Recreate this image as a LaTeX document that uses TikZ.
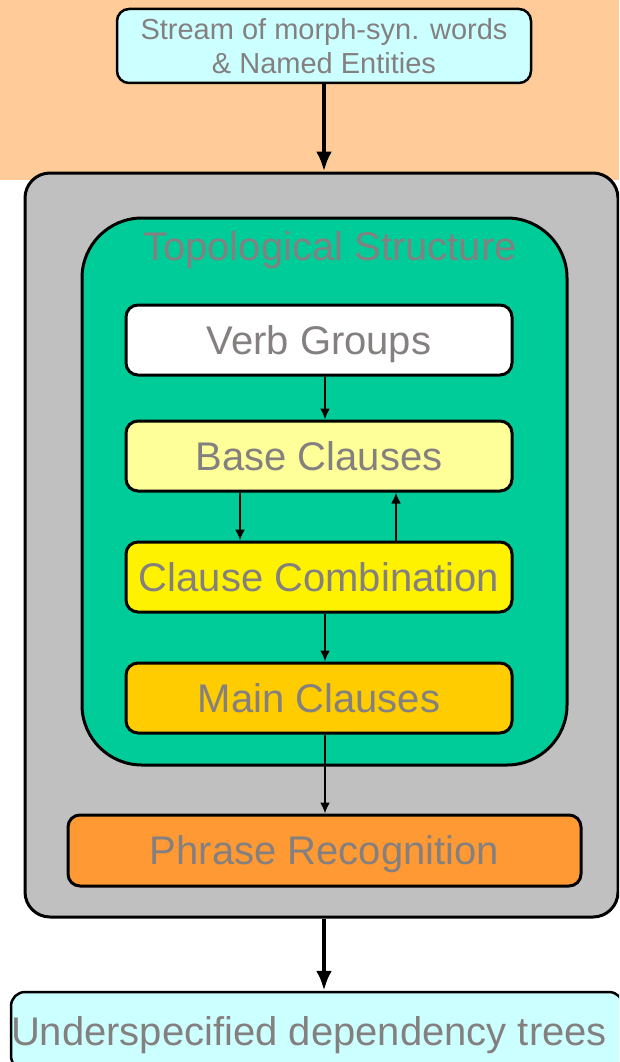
\documentclass[tikz,border=0pt]{standalone}
\usepackage{fontspec}
\setmainfont{Liberation Sans}
\usepackage{tikz}
\usetikzlibrary{arrows.meta,positioning}
\definecolor{orangebg}{RGB}{255,204,153}
\definecolor{greybox}{RGB}{192,192,192}
\definecolor{greenbox}{RGB}{0,204,153}
\definecolor{cyanbox}{RGB}{204,255,255}
\definecolor{paleyellow}{RGB}{255,255,153}
\definecolor{goldbox}{RGB}{255,204,0}
\definecolor{phraseorange}{RGB}{255,153,51}
\definecolor{labelgrey}{RGB}{133,128,128}
\newcommand{\bigfont}{\fontsize{40}{46}\selectfont}
\newcommand{\smallfont}{\fontsize{29}{34}\selectfont}

\begin{document}
\begin{tikzpicture}[x=1pt,y=1pt,->,>={Latex[length=11pt,width=10pt]},
		stage/.style={draw,line width=3pt,rounded corners=12pt,minimum width=386pt,
			minimum height=70pt,text=labelgrey,font=\bigfont,inner sep=0pt,
			text height=28pt,text depth=0pt},
		flow/.style={line width=2pt},
		bigflow/.style={line width=4.5pt,>={Latex[length=20pt,width=16pt]}}]
		\useasboundingbox (0,0) rectangle (619,-1062);
		\clip (0,0) rectangle (619,-1062);
		\fill[orangebg] (0,0) rectangle (619,-180);
		
		\node[stage,fill=cyanbox,minimum width=414pt,minimum height=74pt,text height=,text depth=,
			font=\smallfont,align=center,line width=2.5pt] (stream) at (324,-46)
			{Stream of morph-syn. words\\ \& Named Entities};
		\node[draw,fill=greybox,line width=3pt,rounded corners=25pt,
			minimum width=593pt,minimum height=744pt] (parser) at (321.5,-545) {};
		\node[draw,fill=greenbox,line width=3pt,rounded corners=60pt,
			minimum width=485pt,minimum height=547pt] (topo) at (324.5,-491.5) {};
		\node[text=labelgrey,font=\bigfont,inner sep=0pt,anchor=base] (title) at (330,-260) {Topological Structure};
		
		\node[stage,fill=white] (verb) at (319,-340) {Verb Groups};
		\node[stage,fill=paleyellow] (base) [below=43pt of verb] {Base Clauses};
		\node[stage,fill=yellow] (comb) [below=48pt of base] {Clause Combination};
		\node[stage,fill=goldbox] (main) [below=48pt of comb] {Main Clauses};
		\node[stage,fill=phraseorange,minimum width=513pt,minimum height=71pt] (phrase)
			at (324.5,-850.5) {Phrase Recognition};
		\node[stage,fill=cyanbox,minimum width=610pt,minimum height=78pt,line width=2.5pt,
			rounded corners=14pt] (under) at (317,-1031) {Underspecified dependency trees\kern16pt};
		
		\path[bigflow]
		(stream) edge (stream |- parser.north)
		([xshift=2.5pt]parser.south) edge ([xshift=2.5pt]parser.south |- under.north);
		\path[flow]
		([xshift=6pt]verb.south) edge ([xshift=6pt]base.north)
		([xshift=-79pt]base.south) edge ([xshift=-79pt]comb.north)
		([xshift=77pt]comb.north) edge ([xshift=77pt]base.south)
		([xshift=6pt]comb.south) edge ([xshift=6pt]main.north)
		([xshift=6pt]main.south) edge ([xshift=6pt]main.south |- phrase.north);
		
\end{tikzpicture}
\end{document}
